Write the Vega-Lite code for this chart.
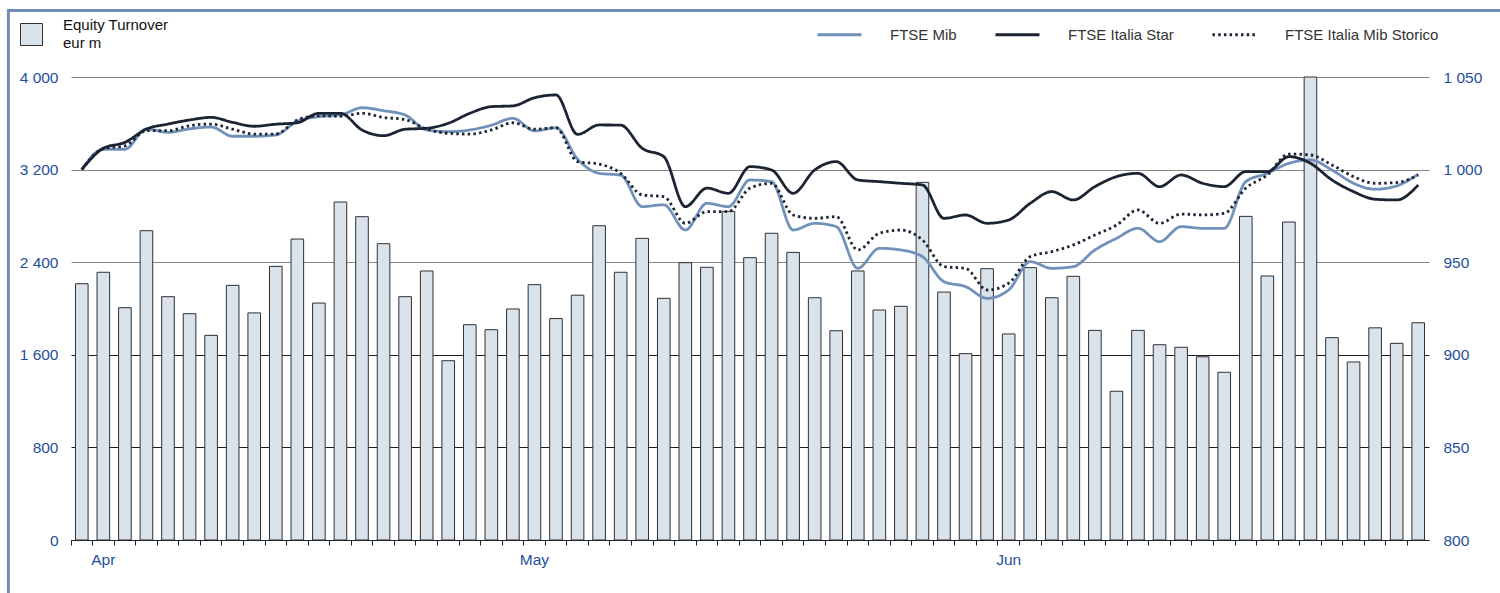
{
  "$schema": "https://vega.github.io/schema/vega-lite/v6.json",
  "width": 1358,
  "height": 463,
  "autosize": {"type": "none"},
  "padding": {"left": 71, "top": 77, "right": 71, "bottom": 53},
  "background": "white",
  "config": {"view": {"stroke": null}, "font": "Liberation Sans", "style": {"guide-label": {"lineHeight": 18}}, "legend": {"strokeWidth": 3}},
  "data": {"values": [
    {"day":1,"measure":"Equity Turnover","turnover":2214,"FTSE Mib":1000,"FTSE Italia Star":1000,"FTSE Italia Mib Storico":1000},
    {"day":2,"measure":"Equity Turnover","turnover":2313,"FTSE Mib":1011,"FTSE Italia Star":1011.5,"FTSE Italia Mib Storico":1011.3},
    {"day":3,"measure":"Equity Turnover","turnover":2007,"FTSE Mib":1011,"FTSE Italia Star":1014.7,"FTSE Italia Mib Storico":1012.8},
    {"day":4,"measure":"Equity Turnover","turnover":2672,"FTSE Mib":1021.9,"FTSE Italia Star":1021.9,"FTSE Italia Mib Storico":1021},
    {"day":5,"measure":"Equity Turnover","turnover":2102,"FTSE Mib":1020.1,"FTSE Italia Star":1024.6,"FTSE Italia Mib Storico":1021},
    {"day":6,"measure":"Equity Turnover","turnover":1955,"FTSE Mib":1022,"FTSE Italia Star":1026.8,"FTSE Italia Mib Storico":1023.7},
    {"day":7,"measure":"Equity Turnover","turnover":1768,"FTSE Mib":1023,"FTSE Italia Star":1028.2,"FTSE Italia Mib Storico":1024.6},
    {"day":8,"measure":"Equity Turnover","turnover":2200,"FTSE Mib":1018,"FTSE Italia Star":1025.5,"FTSE Italia Mib Storico":1021.8},
    {"day":9,"measure":"Equity Turnover","turnover":1962,"FTSE Mib":1018,"FTSE Italia Star":1023.4,"FTSE Italia Mib Storico":1019.2},
    {"day":10,"measure":"Equity Turnover","turnover":2364,"FTSE Mib":1018.7,"FTSE Italia Star":1024.5,"FTSE Italia Mib Storico":1019.2},
    {"day":11,"measure":"Equity Turnover","turnover":2600,"FTSE Mib":1026.2,"FTSE Italia Star":1025.3,"FTSE Italia Mib Storico":1026.8},
    {"day":12,"measure":"Equity Turnover","turnover":2047,"FTSE Mib":1028.6,"FTSE Italia Star":1030.4,"FTSE Italia Mib Storico":1029},
    {"day":13,"measure":"Equity Turnover","turnover":2920,"FTSE Mib":1029.5,"FTSE Italia Star":1030.4,"FTSE Italia Mib Storico":1028.8},
    {"day":14,"measure":"Equity Turnover","turnover":2793,"FTSE Mib":1033.4,"FTSE Italia Star":1021.4,"FTSE Italia Mib Storico":1030.4},
    {"day":15,"measure":"Equity Turnover","turnover":2560,"FTSE Mib":1031.8,"FTSE Italia Star":1018.3,"FTSE Italia Mib Storico":1028.2},
    {"day":16,"measure":"Equity Turnover","turnover":2102,"FTSE Mib":1029.5,"FTSE Italia Star":1021.8,"FTSE Italia Mib Storico":1027},
    {"day":17,"measure":"Equity Turnover","turnover":2324,"FTSE Mib":1021.4,"FTSE Italia Star":1022.3,"FTSE Italia Mib Storico":1021.9},
    {"day":18,"measure":"Equity Turnover","turnover":1549,"FTSE Mib":1020.5,"FTSE Italia Star":1025,"FTSE Italia Mib Storico":1019.6},
    {"day":19,"measure":"Equity Turnover","turnover":1860,"FTSE Mib":1021.4,"FTSE Italia Star":1030.4,"FTSE Italia Mib Storico":1019.2},
    {"day":20,"measure":"Equity Turnover","turnover":1817,"FTSE Mib":1024,"FTSE Italia Star":1034,"FTSE Italia Mib Storico":1021.4},
    {"day":21,"measure":"Equity Turnover","turnover":1996,"FTSE Mib":1027.7,"FTSE Italia Star":1034.4,"FTSE Italia Mib Storico":1025.3},
    {"day":22,"measure":"Equity Turnover","turnover":2206,"FTSE Mib":1020.9,"FTSE Italia Star":1038.8,"FTSE Italia Mib Storico":1021.8},
    {"day":23,"measure":"Equity Turnover","turnover":1913,"FTSE Mib":1022.6,"FTSE Italia Star":1040.3,"FTSE Italia Mib Storico":1022.6},
    {"day":24,"measure":"Equity Turnover","turnover":2115,"FTSE Mib":1005.7,"FTSE Italia Star":1019,"FTSE Italia Mib Storico":1004.3},
    {"day":25,"measure":"Equity Turnover","turnover":2715,"FTSE Mib":998,"FTSE Italia Star":1024.1,"FTSE Italia Mib Storico":1003},
    {"day":26,"measure":"Equity Turnover","turnover":2313,"FTSE Mib":997,"FTSE Italia Star":1024,"FTSE Italia Mib Storico":998},
    {"day":27,"measure":"Equity Turnover","turnover":2606,"FTSE Mib":980,"FTSE Italia Star":1011.5,"FTSE Italia Mib Storico":986.3},
    {"day":28,"measure":"Equity Turnover","turnover":2088,"FTSE Mib":981,"FTSE Italia Star":1007,"FTSE Italia Mib Storico":985.4},
    {"day":29,"measure":"Equity Turnover","turnover":2396,"FTSE Mib":967.4,"FTSE Italia Star":980,"FTSE Italia Mib Storico":971},
    {"day":30,"measure":"Equity Turnover","turnover":2356,"FTSE Mib":981.8,"FTSE Italia Star":990,"FTSE Italia Mib Storico":977.3},
    {"day":31,"measure":"Equity Turnover","turnover":2839,"FTSE Mib":980,"FTSE Italia Star":987.2,"FTSE Italia Mib Storico":977.3},
    {"day":32,"measure":"Equity Turnover","turnover":2439,"FTSE Mib":994.4,"FTSE Italia Star":1001.6,"FTSE Italia Mib Storico":990},
    {"day":33,"measure":"Equity Turnover","turnover":2650,"FTSE Mib":993.5,"FTSE Italia Star":999.8,"FTSE Italia Mib Storico":992.6},
    {"day":34,"measure":"Equity Turnover","turnover":2485,"FTSE Mib":967.4,"FTSE Italia Star":987.2,"FTSE Italia Mib Storico":975.5},
    {"day":35,"measure":"Equity Turnover","turnover":2093,"FTSE Mib":971,"FTSE Italia Star":999.8,"FTSE Italia Mib Storico":973.7},
    {"day":36,"measure":"Equity Turnover","turnover":1808,"FTSE Mib":969.2,"FTSE Italia Star":1004.3,"FTSE Italia Mib Storico":974.6},
    {"day":37,"measure":"Equity Turnover","turnover":2324,"FTSE Mib":946.7,"FTSE Italia Star":994.4,"FTSE Italia Mib Storico":956.6},
    {"day":38,"measure":"Equity Turnover","turnover":1987,"FTSE Mib":957.5,"FTSE Italia Star":993.5,"FTSE Italia Mib Storico":965.6},
    {"day":39,"measure":"Equity Turnover","turnover":2019,"FTSE Mib":956.6,"FTSE Italia Star":992.6,"FTSE Italia Mib Storico":967.4},
    {"day":40,"measure":"Equity Turnover","turnover":3090,"FTSE Mib":953,"FTSE Italia Star":991.7,"FTSE Italia Mib Storico":962},
    {"day":41,"measure":"Equity Turnover","turnover":2142,"FTSE Mib":939.5,"FTSE Italia Star":973.7,"FTSE Italia Mib Storico":947.6},
    {"day":42,"measure":"Equity Turnover","turnover":1610,"FTSE Mib":936.8,"FTSE Italia Star":975.5,"FTSE Italia Mib Storico":946.7},
    {"day":43,"measure":"Equity Turnover","turnover":2344,"FTSE Mib":930.5,"FTSE Italia Star":971,"FTSE Italia Mib Storico":935},
    {"day":44,"measure":"Equity Turnover","turnover":1780,"FTSE Mib":935,"FTSE Italia Star":972.8,"FTSE Italia Mib Storico":938.6},
    {"day":45,"measure":"Equity Turnover","turnover":2353,"FTSE Mib":950.3,"FTSE Italia Star":981.8,"FTSE Italia Mib Storico":953},
    {"day":46,"measure":"Equity Turnover","turnover":2093,"FTSE Mib":946.7,"FTSE Italia Star":988.1,"FTSE Italia Mib Storico":955.7},
    {"day":47,"measure":"Equity Turnover","turnover":2278,"FTSE Mib":947.6,"FTSE Italia Star":983.6,"FTSE Italia Mib Storico":959.3},
    {"day":48,"measure":"Equity Turnover","turnover":1811,"FTSE Mib":956.6,"FTSE Italia Star":990.8,"FTSE Italia Mib Storico":964.7},
    {"day":49,"measure":"Equity Turnover","turnover":1285,"FTSE Mib":962.9,"FTSE Italia Star":996.2,"FTSE Italia Mib Storico":970},
    {"day":50,"measure":"Equity Turnover","turnover":1811,"FTSE Mib":968.3,"FTSE Italia Star":998,"FTSE Italia Mib Storico":978.2},
    {"day":51,"measure":"Equity Turnover","turnover":1687,"FTSE Mib":961.1,"FTSE Italia Star":990.8,"FTSE Italia Mib Storico":971},
    {"day":52,"measure":"Equity Turnover","turnover":1665,"FTSE Mib":969.2,"FTSE Italia Star":997.1,"FTSE Italia Mib Storico":976},
    {"day":53,"measure":"Equity Turnover","turnover":1583,"FTSE Mib":968.3,"FTSE Italia Star":992.6,"FTSE Italia Mib Storico":975.5},
    {"day":54,"measure":"Equity Turnover","turnover":1449,"FTSE Mib":968.3,"FTSE Italia Star":990.8,"FTSE Italia Mib Storico":976.4},
    {"day":55,"measure":"Equity Turnover","turnover":2796,"FTSE Mib":993.5,"FTSE Italia Star":998.9,"FTSE Italia Mib Storico":990},
    {"day":56,"measure":"Equity Turnover","turnover":2281,"FTSE Mib":998,"FTSE Italia Star":998.9,"FTSE Italia Mib Storico":997.1},
    {"day":57,"measure":"Equity Turnover","turnover":2747,"FTSE Mib":1003.4,"FTSE Italia Star":1007,"FTSE Italia Mib Storico":1008.4},
    {"day":58,"measure":"Equity Turnover","turnover":4000,"FTSE Mib":1005.2,"FTSE Italia Star":1003.4,"FTSE Italia Mib Storico":1007.9},
    {"day":59,"measure":"Equity Turnover","turnover":1748,"FTSE Mib":999.8,"FTSE Italia Star":994.4,"FTSE Italia Mib Storico":1002.5},
    {"day":60,"measure":"Equity Turnover","turnover":1538,"FTSE Mib":992.6,"FTSE Italia Star":988.1,"FTSE Italia Mib Storico":996.2},
    {"day":61,"measure":"Equity Turnover","turnover":1833,"FTSE Mib":989.4,"FTSE Italia Star":984,"FTSE Italia Mib Storico":992.6},
    {"day":62,"measure":"Equity Turnover","turnover":1699,"FTSE Mib":991.2,"FTSE Italia Star":983.6,"FTSE Italia Mib Storico":993},
    {"day":63,"measure":"Equity Turnover","turnover":1877,"FTSE Mib":997.5,"FTSE Italia Star":991.7,"FTSE Italia Mib Storico":997.1}
  ]},
  "layer": [
    {
      "mark": {"type": "bar", "width": {"band": 0.585}, "stroke": "#2b3038", "strokeWidth": 1},
      "encoding": {
        "x": {
          "field": "day", "type": "ordinal",
          "scale": {"paddingInner": 0, "paddingOuter": 0},
          "axis": {
            "title": null, "bandPosition": 0, "labelAngle": 0,
            "labelOverlap": false,
            "labelExpr": "datum.value == 2 ? 'Apr' : datum.value == 22 ? 'May' : datum.value == 44 ? 'Jun' : ''",
            "labelColor": "#1f4f9c", "labelFontSize": 15.5, "labelPadding": 7,
            "tickSize": 5, "tickColor": "#222222", "domainColor": "#222222", "grid": false
          }
        },
        "y": {
          "field": "turnover", "type": "quantitative",
          "scale": {"domain": [0, 4000], "nice": false},
          "axis": {
            "title": null, "orient": "left", "values": [0, 800, 1600, 2400, 3200, 4000],
            "domain": false, "ticks": false, "grid": true,
            "gridColor": {"condition": {"test": "datum.value <= 1600", "value": "#1e1e1e"}, "value": "#888888"},
            "labelExpr": "replace(format(datum.value, ','), ',', ' ')",
            "labelColor": "#1f4f9c", "labelFontSize": 15.5, "labelPadding": 13
          }
        },
        "fill": {
          "field": "measure", "type": "nominal",
          "scale": {"range": ["#dae2ea"]},
          "legend": {
            "title": null, "orient": "none", "legendX": -51, "legendY": -54,
            "symbolType": "square", "symbolSize": 484, "symbolStrokeColor": "#333333",
            "symbolStrokeWidth": 1, "symbolOpacity": 1,
            "labelExpr": "['Equity Turnover', 'eur m']", "labelBaseline": "line-bottom",
            "labelFontSize": 15, "labelColor": "#111111", "labelOffset": 20
          }
        },
        "opacity": {
          "field": "turnover", "type": "quantitative",
          "scale": {"range": [1, 1]},
          "legend": {
            "title": null, "orient": "none", "legendX": -62.6, "legendY": -66.5,
            "padding": 800, "strokeColor": "#6d8cb8", "values": [2000],
            "symbolSize": 0, "symbolStrokeWidth": 0, "labelExpr": "''"
          }
        }
      }
    },
    {
      "transform": [{"fold": ["FTSE Mib", "FTSE Italia Star", "FTSE Italia Mib Storico"], "as": ["series", "index"]}],
      "mark": {"type": "line", "interpolate": "monotone", "strokeWidth": 2.8},
      "encoding": {
        "x": {"field": "day", "type": "ordinal"},
        "y": {
          "field": "index", "type": "quantitative",
          "scale": {"domain": [800, 1050], "nice": false, "zero": false},
          "axis": {
            "title": null, "orient": "right", "values": [800, 850, 900, 950, 1000, 1050],
            "domain": false, "ticks": false, "grid": false,
            "labelExpr": "replace(format(datum.value, ','), ',', ' ')",
            "labelColor": "#1f4f9c", "labelFontSize": 15.5, "labelPadding": 14
          }
        },
        "color": {
          "field": "series", "type": "nominal",
          "scale": {"domain": ["FTSE Mib", "FTSE Italia Star", "FTSE Italia Mib Storico"], "range": ["#7191bb", "#1b2433", "#1b2433"]},
          "legend": {
            "title": null, "orient": "none", "direction": "horizontal", "legendX": 745, "legendY": -66,
            "symbolType": "stroke", "symbolSize": 1936, "symbolStrokeWidth": 3,
            "labelFontSize": 15, "labelColor": "#333333", "labelOffset": 27, "columnPadding": 32
          }
        },
        "strokeDash": {
          "field": "series", "type": "nominal",
          "scale": {"domain": ["FTSE Mib", "FTSE Italia Star", "FTSE Italia Mib Storico"], "range": [[1, 0], [1, 0], [2.5, 3.2]]},
          "legend": {
            "title": null, "orient": "none", "direction": "horizontal", "legendX": 745, "legendY": -66,
            "symbolType": "stroke", "symbolSize": 1936, "symbolStrokeWidth": 3,
            "labelFontSize": 15, "labelColor": "#333333", "labelOffset": 27, "columnPadding": 32
          }
        }
      }
    }
  ],
  "resolve": {"scale": {"y": "independent"}}
}
